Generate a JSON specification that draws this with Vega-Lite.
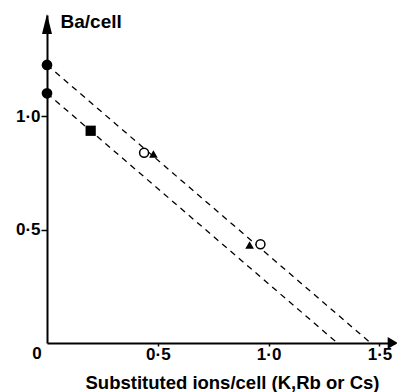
{
  "$schema": "https://vega.github.io/schema/vega-lite/v6.json",
  "width": 348,
  "height": 328,
  "autosize": "none",
  "padding": {"left": 47, "top": 15, "right": 2, "bottom": 49},
  "background": "white",
  "config": {
    "view": {"stroke": null},
    "font": "Liberation Sans",
    "axis": {"grid": false, "domainColor": "black", "domainWidth": 2, "tickColor": "black", "tickWidth": 1.5, "tickSize": 5, "labelFont": "Liberation Sans", "labelFontWeight": "bold", "labelFontSize": 17, "labelColor": "black", "titleFont": "Liberation Sans", "titleFontWeight": "bold", "titleColor": "black"}
  },
  "datasets": {
    "lines": [
      {"series": "upper", "x": 0, "y": 1.225},
      {"series": "upper", "x": 1.46, "y": 0},
      {"series": "lower", "x": 0, "y": 1.10},
      {"series": "lower", "x": 1.31, "y": 0}
    ],
    "points": [
      {"kind": "filled circle", "x": 0, "y": 1.225},
      {"kind": "filled circle", "x": 0, "y": 1.10},
      {"kind": "filled square", "x": 0.197, "y": 0.935},
      {"kind": "open circle", "x": 0.438, "y": 0.838},
      {"kind": "triangle", "x": 0.48, "y": 0.833},
      {"kind": "triangle", "x": 0.914, "y": 0.432},
      {"kind": "open circle", "x": 0.963, "y": 0.435}
    ],
    "arrows": [
      {"dir": "up", "x": 0, "y": 1.405},
      {"dir": "right", "x": 1.556, "y": 0}
    ],
    "origin": [{"x": 0, "y": 0, "label": "0"}]
  },
  "layer": [
    {
      "data": {"name": "lines"},
      "mark": {"type": "line", "color": "black", "strokeWidth": 1.3, "strokeDash": [6, 5], "clip": true},
      "encoding": {
        "x": {"field": "x", "type": "quantitative", "scale": {"domain": [0, 1.57], "nice": false, "zero": false},
          "axis": {"values": [0.5, 1.0, 1.5], "labelExpr": "replace(format(datum.value, '.1f'), '.', '·')", "title": "Substituted ions/cell (K,Rb or Cs)", "titleFontSize": 18.5, "titleAnchor": "start", "titleAlign": "left", "titleX": 38, "titleY": 45, "titleBaseline": "alphabetic", "labelPadding": 0, "tickSize": 3}},
        "y": {"field": "y", "type": "quantitative", "scale": {"domain": [0, 1.445], "nice": false, "zero": false},
          "axis": {"values": [0.5, 1.0], "labelExpr": "replace(format(datum.value, '.1f'), '.', '·')", "title": "Ba/cell", "titleAngle": 0, "titleFontSize": 19, "titleAnchor": "start", "titleAlign": "left", "titleBaseline": "alphabetic", "titleX": 13, "titleY": 12, "labelPadding": 1, "tickSize": 6}},
        "detail": {"field": "series", "type": "nominal"}
      }
    },
    {
      "data": {"name": "points"},
      "transform": [{"filter": "datum.kind === 'filled circle'"}],
      "mark": {"type": "point", "shape": "circle", "filled": true, "color": "black", "size": 115, "opacity": 1},
      "encoding": {"x": {"field": "x", "type": "quantitative"}, "y": {"field": "y", "type": "quantitative"}}
    },
    {
      "data": {"name": "points"},
      "transform": [{"filter": "datum.kind === 'filled square'"}],
      "mark": {"type": "point", "shape": "square", "filled": true, "color": "black", "size": 105, "opacity": 1},
      "encoding": {"x": {"field": "x", "type": "quantitative"}, "y": {"field": "y", "type": "quantitative"}}
    },
    {
      "data": {"name": "points"},
      "transform": [{"filter": "datum.kind === 'triangle'"}],
      "mark": {"type": "point", "shape": "triangle-up", "filled": true, "color": "black", "size": 75, "opacity": 1},
      "encoding": {"x": {"field": "x", "type": "quantitative"}, "y": {"field": "y", "type": "quantitative"}}
    },
    {
      "data": {"name": "points"},
      "transform": [{"filter": "datum.kind === 'open circle'"}],
      "mark": {"type": "point", "shape": "circle", "filled": true, "fill": "white", "stroke": "black", "strokeWidth": 1.5, "size": 80, "opacity": 1},
      "encoding": {"x": {"field": "x", "type": "quantitative"}, "y": {"field": "y", "type": "quantitative"}}
    },
    {
      "data": {"name": "arrows"},
      "transform": [{"filter": "datum.dir === 'up'"}],
      "mark": {"type": "point", "shape": "M0,-1L0.5,1L-0.5,1Z", "filled": true, "color": "black", "size": 400, "opacity": 1, "clip": false},
      "encoding": {"x": {"field": "x", "type": "quantitative"}, "y": {"field": "y", "type": "quantitative"}}
    },
    {
      "data": {"name": "arrows"},
      "transform": [{"filter": "datum.dir === 'right'"}],
      "mark": {"type": "point", "shape": "M1,0L-0.7,-1L-0.7,1Z", "filled": true, "color": "black", "size": 144, "opacity": 1, "clip": false},
      "encoding": {"x": {"field": "x", "type": "quantitative"}, "y": {"field": "y", "type": "quantitative"}}
    },
    {
      "data": {"name": "origin"},
      "mark": {"type": "text", "font": "Liberation Sans", "fontWeight": "bold", "fontSize": 17, "color": "black", "dx": -10, "dy": 11, "align": "center", "baseline": "middle"},
      "encoding": {"x": {"field": "x", "type": "quantitative"}, "y": {"field": "y", "type": "quantitative"}, "text": {"field": "label"}}
    }
  ]
}
